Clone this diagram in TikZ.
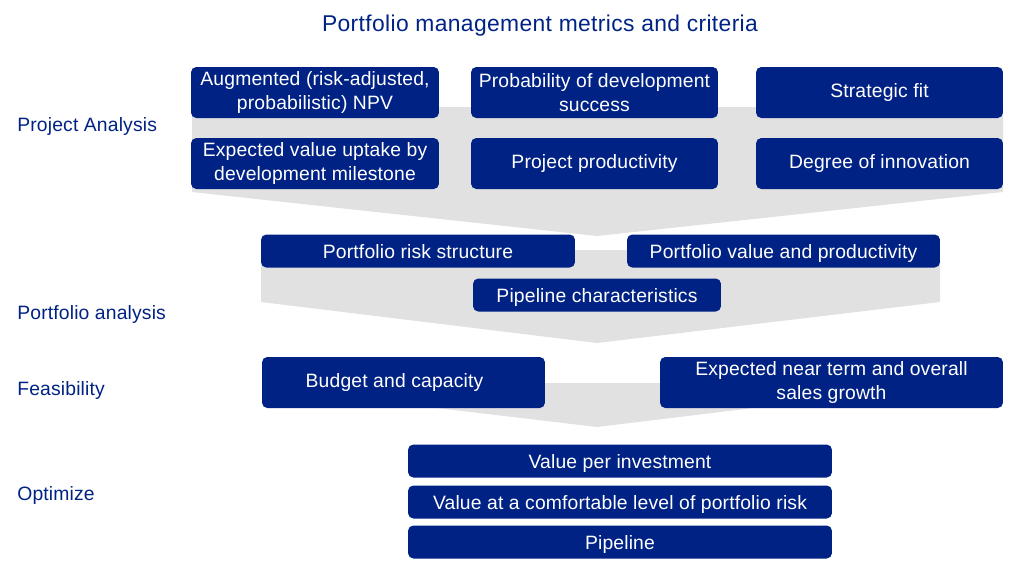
\documentclass[tikz,border=0pt]{standalone}
\usepackage{fontspec}
\setmainfont[LetterSpace=0.8]{Liberation Sans}
\definecolor{navy}{RGB}{0,34,132}
\definecolor{funnelgray}{RGB}{225,225,225}
\begin{document}
\begin{tikzpicture}[x=0.02cm,y=-0.02cm,
		metric/.style={rectangle,rounded corners=3pt,fill=navy,text=white,inner sep=0pt,align=center,font=\fontsize{11}{14}\selectfont},
		tall/.style={minimum height=1.02cm},
		flat/.style={minimum height=0.66cm,text depth=0pt},
		stage/.style={anchor=west,text=navy,inner sep=0pt,font=\fontsize{11}{13}\selectfont}]
			\useasboundingbox (0,0) rectangle (1024,562);
			\fill[funnelgray] (192,107) -- (1003,107) -- (1003,192) -- (597,236) -- (192,192) -- cycle;
			\fill[funnelgray] (261,250) -- (940,250) -- (940,302) -- (597,343) -- (261,302) -- cycle;
			\fill[funnelgray] (437,383) -- (753,383) -- (753,408) -- (597,427) -- (437,408) -- cycle;
			\node[text=navy,font=\fontsize{13}{15}\selectfont\addfontfeature{LetterSpace=1.6}] (title) at (540,26) {Portfolio management metrics and criteria};
			\node[stage] (project) at (17,126) {Project Analysis};
			\node[stage] (portfolio) at (17,314) {Portfolio analysis};
			\node[stage] (feasibility) at (17,390) {Feasibility};
			\node[stage] (optimize) at (17,495) {Optimize};
			\node[metric,tall,minimum width=4.96cm] (npv) at (315,92.5) {Augmented (risk-adjusted,\\probabilistic) NPV};
			\node[metric,tall,minimum width=4.94cm] (success) at (594.5,92.5) {Probability of development\\success};
			\node[metric,tall,minimum width=4.94cm] (fit) at (879.5,92.5) {Strategic fit};
			\node[metric,tall,minimum width=4.96cm] (uptake) at (315,163.5) {Expected value uptake by\\development milestone};
			\node[metric,tall,minimum width=4.94cm] (productivity) at (594.5,163.5) {Project productivity};
			\node[metric,tall,minimum width=4.94cm] (innovation) at (879.5,163.5) {Degree of innovation};
			\node[metric,flat,minimum width=6.28cm] (risk) at (418,251) {Portfolio risk structure};
			\node[metric,flat,minimum width=6.26cm] (value) at (783.5,251) {Portfolio value and productivity};
			\node[metric,flat,minimum width=4.96cm] (pipechar) at (597,295) {Pipeline characteristics};
			\node[metric,tall,minimum width=5.66cm] (budget) at (403.5,382.5) {Budget and capacity\hspace*{0.36cm}};
			\node[metric,tall,minimum width=6.86cm] (growth) at (831.5,382.5) {Expected near term and overall\\sales growth};
			\node[metric,flat,minimum width=8.48cm] (perinvest) at (620,461) {Value per investment};
			\node[metric,flat,minimum width=8.48cm] (comfort) at (620,502) {Value at a comfortable level of portfolio risk};
			\node[metric,flat,minimum width=8.48cm] (pipeline) at (620,542) {Pipeline};
		\end{tikzpicture}
\end{document}
